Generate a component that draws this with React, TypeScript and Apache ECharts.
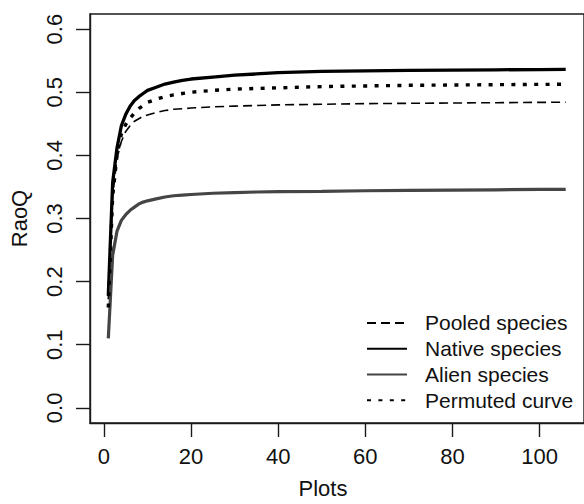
import React, { useEffect, useRef } from "react";
import * as echarts from "echarts";

const plots = [1, 2, 3, 4, 5, 6, 7, 8, 9, 10, 12, 14, 16, 18, 20, 25, 30, 35, 40, 50, 60, 70, 80, 90, 100, 106];
const pooled = [0.172, 0.335, 0.395, 0.422, 0.438, 0.447, 0.454, 0.458, 0.462, 0.464, 0.468, 0.471, 0.473, 0.474, 0.475, 0.477, 0.478, 0.479, 0.48, 0.481, 0.482, 0.4825, 0.483, 0.4835, 0.484, 0.4842];
const native = [0.178, 0.357, 0.412, 0.447, 0.465, 0.478, 0.487, 0.493, 0.498, 0.503, 0.508, 0.513, 0.516, 0.519, 0.521, 0.524, 0.527, 0.529, 0.531, 0.533, 0.534, 0.5347, 0.5352, 0.5356, 0.536, 0.5362];
const alien = [0.11, 0.242, 0.28, 0.297, 0.306, 0.313, 0.318, 0.323, 0.326, 0.328, 0.331, 0.334, 0.336, 0.337, 0.338, 0.34, 0.341, 0.342, 0.3425, 0.343, 0.344, 0.3445, 0.345, 0.3455, 0.346, 0.3463];
const permuted = [0.159, 0.335, 0.4, 0.434, 0.449, 0.459, 0.467, 0.474, 0.479, 0.484, 0.489, 0.493, 0.496, 0.498, 0.5, 0.503, 0.505, 0.506, 0.507, 0.509, 0.51, 0.511, 0.5115, 0.512, 0.5125, 0.5127];

const xTicks = [0, 20, 40, 60, 80, 100];
const yTicks = [0, 0.1, 0.2, 0.3, 0.4, 0.5, 0.6];
const seriesNames = ["Pooled species", "Native species", "Alien species", "Permuted curve"];

const FONT = "'Liberation Sans', Arial, sans-serif";
const pair = (ys: number[]) => plots.map((x, i) => [x, ys[i]]);

export default function App() {
  const ref = useRef<HTMLDivElement>(null);
  useEffect(() => {
    if (!ref.current) return;
    const chart = echarts.init(ref.current, null, { renderer: "svg" });
    const axisColor = "#1a1a1a";
    chart.setOption({
      animation: false,
      backgroundColor: "#ffffff",
      textStyle: { fontFamily: FONT },
      grid: {
        left: 89,
        top: 14,
        width: 496,
        height: 410.7,
        show: true,
        borderColor: axisColor,
        borderWidth: 1.4,
        backgroundColor: "transparent",
      },
      xAxis: {
        type: "value",
        min: -3.2,
        max: 110.2,
        name: "Plots",
        nameLocation: "middle",
        nameGap: 54,
        nameTextStyle: { fontSize: 22, color: "#111", fontFamily: FONT, padding: [0, 28, 0, 0] },
        splitLine: { show: false },
        axisLine: { show: true, onZero: false, lineStyle: { color: axisColor, width: 1.4 } },
        axisTick: { show: true, inside: false, length: 14, customValues: xTicks, lineStyle: { color: axisColor, width: 1.4 } },
        axisLabel: { fontSize: 22, color: "#111", fontFamily: FONT, margin: 22, customValues: xTicks },
      },
      yAxis: {
        type: "value",
        min: -0.024,
        max: 0.624,
        name: "RaoQ",
        nameLocation: "middle",
        nameGap: 60,
        nameRotate: 90,
        nameTextStyle: { fontSize: 22, color: "#111", fontFamily: FONT },
        splitLine: { show: false },
        axisLine: { show: true, onZero: false, lineStyle: { color: axisColor, width: 1.4 } },
        axisTick: { show: true, inside: false, length: 14, customValues: yTicks, lineStyle: { color: axisColor, width: 1.4 } },
        axisLabel: {
          fontSize: 22,
          color: "#111",
          fontFamily: FONT,
          rotate: 90,
          margin: 25,
          customValues: yTicks,
          formatter: (v: number) => v.toFixed(1),
        },
      },
      legend: {
        orient: "vertical",
        left: 366,
        top: 310,
        padding: 0,
        itemGap: 0,
        itemWidth: 40,
        itemHeight: 14,
        itemStyle: { color: "transparent", borderWidth: 0, opacity: 0 },
        textStyle: { fontSize: 21, color: "#111", fontFamily: FONT, lineHeight: 25.8, padding: [0, 0, 0, 13] },
        data: seriesNames,
      },
      series: [
        {
          name: seriesNames[0],
          type: "line",
          data: pair(pooled),
          symbol: "none",
          lineStyle: { color: "#000", width: 1.6, type: [9, 5] },
          itemStyle: { color: "#000" },
          z: 2,
        },
        {
          name: seriesNames[1],
          type: "line",
          data: pair(native),
          symbol: "none",
          lineStyle: { color: "#000", width: 3.3 },
          itemStyle: { color: "#000" },
          z: 3,
        },
        {
          name: seriesNames[2],
          type: "line",
          data: pair(alien),
          symbol: "none",
          lineStyle: { color: "#454545", width: 3.2 },
          itemStyle: { color: "#454545" },
          z: 3,
        },
        {
          name: seriesNames[3],
          type: "line",
          data: pair(permuted),
          symbol: "none",
          lineStyle: { color: "#000", width: 3.4, type: [4, 7.4] },
          itemStyle: { color: "#000" },
          z: 4,
        },
      ],
    });
    return () => chart.dispose();
  }, []);
  return <div ref={ref} style={{ position: "absolute", left: 0, top: 0, width: 584, height: 504 }} />;
}
